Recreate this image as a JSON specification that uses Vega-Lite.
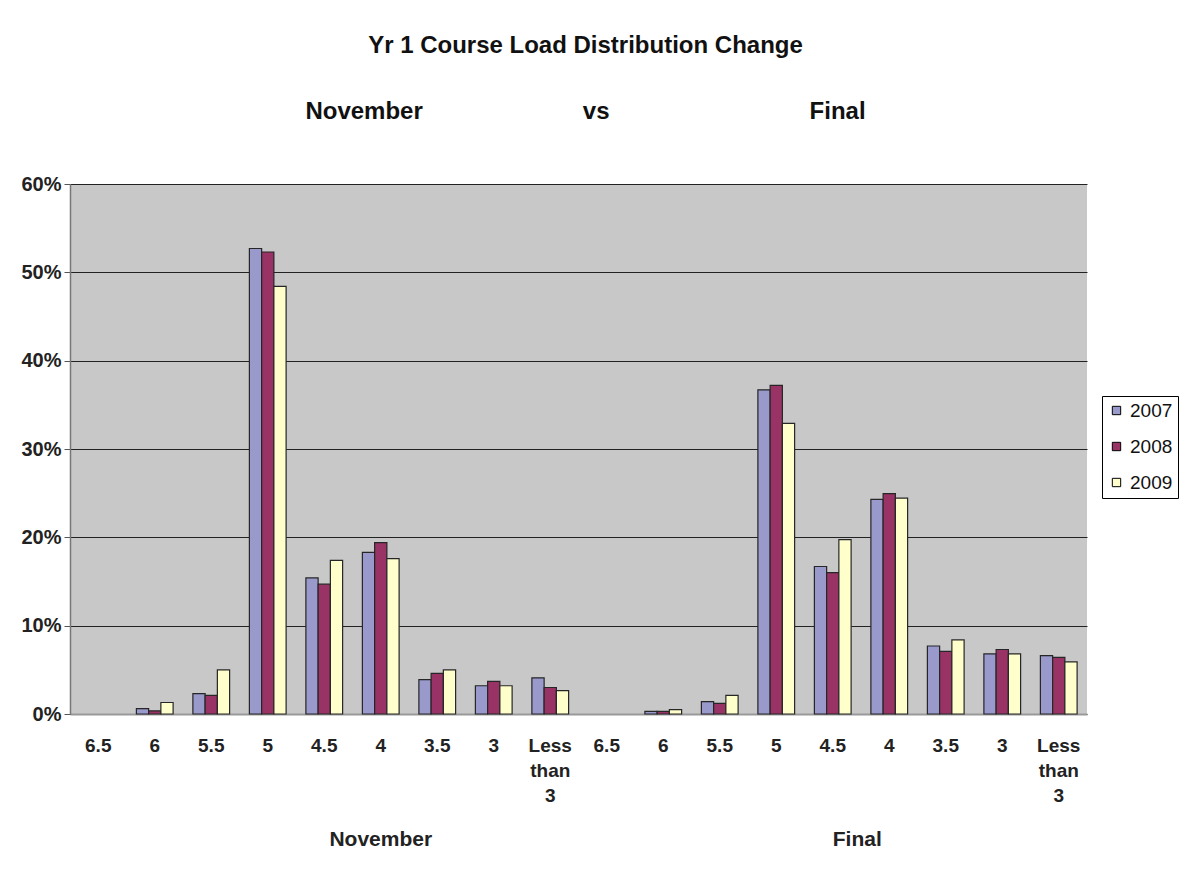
{
  "$schema": "https://vega.github.io/schema/vega-lite/v6.json",
  "autosize": {"type": "none"},
  "width": 1017,
  "height": 530,
  "padding": {"left": 70, "top": 184, "right": 97, "bottom": 161},
  "background": "white",
  "config": {
    "font": "Liberation Sans",
    "view": {"fill": "#C8C8C9", "stroke": null}
  },
  "title": {
    "text": "Yr 1 Course Load Distribution Change",
    "subtitle": "November\u00a0\u00a0\u00a0\u00a0\u00a0\u00a0\u00a0\u00a0\u00a0\u00a0\u00a0\u00a0\u00a0\u00a0\u00a0\u00a0\u00a0\u00a0\u00a0\u00a0\u00a0\u00a0\u00a0\u00a0vs\u00a0\u00a0\u00a0\u00a0\u00a0\u00a0\u00a0\u00a0\u00a0\u00a0\u00a0\u00a0\u00a0\u00a0\u00a0\u00a0\u00a0\u00a0\u00a0\u00a0\u00a0\u00a0\u00a0\u00a0\u00a0\u00a0\u00a0\u00a0\u00a0\u00a0Final",
    "anchor": "middle",
    "frame": "group",
    "dx": 7,
    "fontSize": 24,
    "fontWeight": "bold",
    "color": "#111",
    "subtitleFontSize": 24,
    "subtitleFontWeight": "bold",
    "subtitleColor": "#111",
    "subtitlePadding": 42,
    "offset": 50
  },
  "datasets": {
    "bars": [
      {"cat": "November|6", "year": "2007", "pct": 0.6},
      {"cat": "November|6", "year": "2008", "pct": 0.35},
      {"cat": "November|6", "year": "2009", "pct": 1.3},
      {"cat": "November|5.5", "year": "2007", "pct": 2.3},
      {"cat": "November|5.5", "year": "2008", "pct": 2.1},
      {"cat": "November|5.5", "year": "2009", "pct": 5.0},
      {"cat": "November|5", "year": "2007", "pct": 52.7},
      {"cat": "November|5", "year": "2008", "pct": 52.3},
      {"cat": "November|5", "year": "2009", "pct": 48.4},
      {"cat": "November|4.5", "year": "2007", "pct": 15.4},
      {"cat": "November|4.5", "year": "2008", "pct": 14.7},
      {"cat": "November|4.5", "year": "2009", "pct": 17.4},
      {"cat": "November|4", "year": "2007", "pct": 18.3},
      {"cat": "November|4", "year": "2008", "pct": 19.4},
      {"cat": "November|4", "year": "2009", "pct": 17.6},
      {"cat": "November|3.5", "year": "2007", "pct": 3.9},
      {"cat": "November|3.5", "year": "2008", "pct": 4.6},
      {"cat": "November|3.5", "year": "2009", "pct": 5.0},
      {"cat": "November|3", "year": "2007", "pct": 3.2},
      {"cat": "November|3", "year": "2008", "pct": 3.7},
      {"cat": "November|3", "year": "2009", "pct": 3.2},
      {"cat": "November|Less than 3", "year": "2007", "pct": 4.1},
      {"cat": "November|Less than 3", "year": "2008", "pct": 3.0},
      {"cat": "November|Less than 3", "year": "2009", "pct": 2.65},
      {"cat": "Final|6", "year": "2007", "pct": 0.3},
      {"cat": "Final|6", "year": "2008", "pct": 0.3},
      {"cat": "Final|6", "year": "2009", "pct": 0.5},
      {"cat": "Final|5.5", "year": "2007", "pct": 1.4},
      {"cat": "Final|5.5", "year": "2008", "pct": 1.2},
      {"cat": "Final|5.5", "year": "2009", "pct": 2.1},
      {"cat": "Final|5", "year": "2007", "pct": 36.7},
      {"cat": "Final|5", "year": "2008", "pct": 37.2},
      {"cat": "Final|5", "year": "2009", "pct": 32.9},
      {"cat": "Final|4.5", "year": "2007", "pct": 16.7},
      {"cat": "Final|4.5", "year": "2008", "pct": 16.0},
      {"cat": "Final|4.5", "year": "2009", "pct": 19.75},
      {"cat": "Final|4", "year": "2007", "pct": 24.3},
      {"cat": "Final|4", "year": "2008", "pct": 24.95},
      {"cat": "Final|4", "year": "2009", "pct": 24.45},
      {"cat": "Final|3.5", "year": "2007", "pct": 7.7},
      {"cat": "Final|3.5", "year": "2008", "pct": 7.1},
      {"cat": "Final|3.5", "year": "2009", "pct": 8.4},
      {"cat": "Final|3", "year": "2007", "pct": 6.8},
      {"cat": "Final|3", "year": "2008", "pct": 7.3},
      {"cat": "Final|3", "year": "2009", "pct": 6.8},
      {"cat": "Final|Less than 3", "year": "2007", "pct": 6.6},
      {"cat": "Final|Less than 3", "year": "2008", "pct": 6.4},
      {"cat": "Final|Less than 3", "year": "2009", "pct": 5.9}
    ],
    "groups": [
      {"cat": "November|4", "group": "November"},
      {"cat": "Final|4.5", "group": "Final"}
    ]
  },
  "layer": [
    {
      "data": {"name": "bars"},
      "mark": {"type": "bar", "stroke": "#262626", "strokeWidth": 1.2},
      "encoding": {
        "x": {
          "field": "cat",
          "type": "nominal",
          "scale": {
            "domain": ["November|6.5", "November|6", "November|5.5", "November|5", "November|4.5", "November|4", "November|3.5", "November|3", "November|Less than 3",
                       "Final|6.5", "Final|6", "Final|5.5", "Final|5", "Final|4.5", "Final|4", "Final|3.5", "Final|3", "Final|Less than 3"],
            "paddingInner": 0.35,
            "paddingOuter": 0.175
          },
          "axis": {
            "orient": "bottom",
            "title": null,
            "labelExpr": "split(split(datum.value, '|')[1], ' ')",
            "labelAngle": 0,
            "labelFontSize": 19,
            "labelFontWeight": "bold",
            "labelColor": "#222",
            "labelPadding": 31,
            "labelLineHeight": 25,
            "labelBaseline": "middle",
            "ticks": false,
            "domainColor": "#999",
            "domainWidth": 2
          }
        },
        "xOffset": {
          "field": "year",
          "type": "nominal",
          "scale": {"paddingInner": 0, "paddingOuter": 0}
        },
        "y": {
          "field": "pct",
          "type": "quantitative",
          "scale": {"domain": [0, 60], "nice": false},
          "axis": {
            "title": null,
            "values": [0, 10, 20, 30, 40, 50, 60],
            "labelExpr": "datum.value + '%'",
            "labelFontSize": 20,
            "labelFontWeight": "bold",
            "labelColor": "#222",
            "labelPadding": 3,
            "tickSize": 6,
            "tickColor": "#555",
            "domainColor": "#777",
            "domainWidth": 1.5,
            "grid": true,
            "gridColor": "#222",
            "gridWidth": 1
          }
        },
        "color": {
          "field": "year",
          "type": "nominal",
          "scale": {"domain": ["2007", "2008", "2009"], "range": ["#9999CC", "#993366", "#FFFFCC"]},
          "legend": {
            "title": null,
            "orient": "none",
            "legendX": 1032,
            "legendY": 212,
            "strokeColor": "#000",
            "fillColor": "white",
            "padding": 5,
            "symbolType": "square",
            "symbolSize": 70,
            "symbolStrokeColor": "#000",
            "symbolStrokeWidth": 1,
            "symbolOpacity": 1,
            "labelFontSize": 19,
            "labelOffset": 4,
            "labelColor": "#111",
            "rowPadding": 16
          }
        }
      }
    },
    {
      "data": {"name": "groups"},
      "mark": {"type": "point", "opacity": 0},
      "encoding": {
        "x": {
          "field": "cat",
          "type": "nominal",
          "axis": {
            "orient": "bottom",
            "title": null,
            "offset": 110,
            "labelExpr": "indexof(['November|4', 'Final|4.5'], datum.value) >= 0 ? split(datum.value, '|')[0] : ''",
            "labelAngle": 0,
            "labelFontSize": 21,
            "labelFontWeight": "bold",
            "labelColor": "#222",
            "labelPadding": 4,
            "labelAlign": {"condition": {"test": "datum.value == 'Final|4.5'", "value": "left"}, "value": "center"},
            "labelOverlap": false,
            "ticks": false,
            "domain": false,
            "grid": false
          }
        },
        "y": {"datum": 0, "type": "quantitative"}
      }
    }
  ],
  "resolve": {"axis": {"x": "independent"}}
}
